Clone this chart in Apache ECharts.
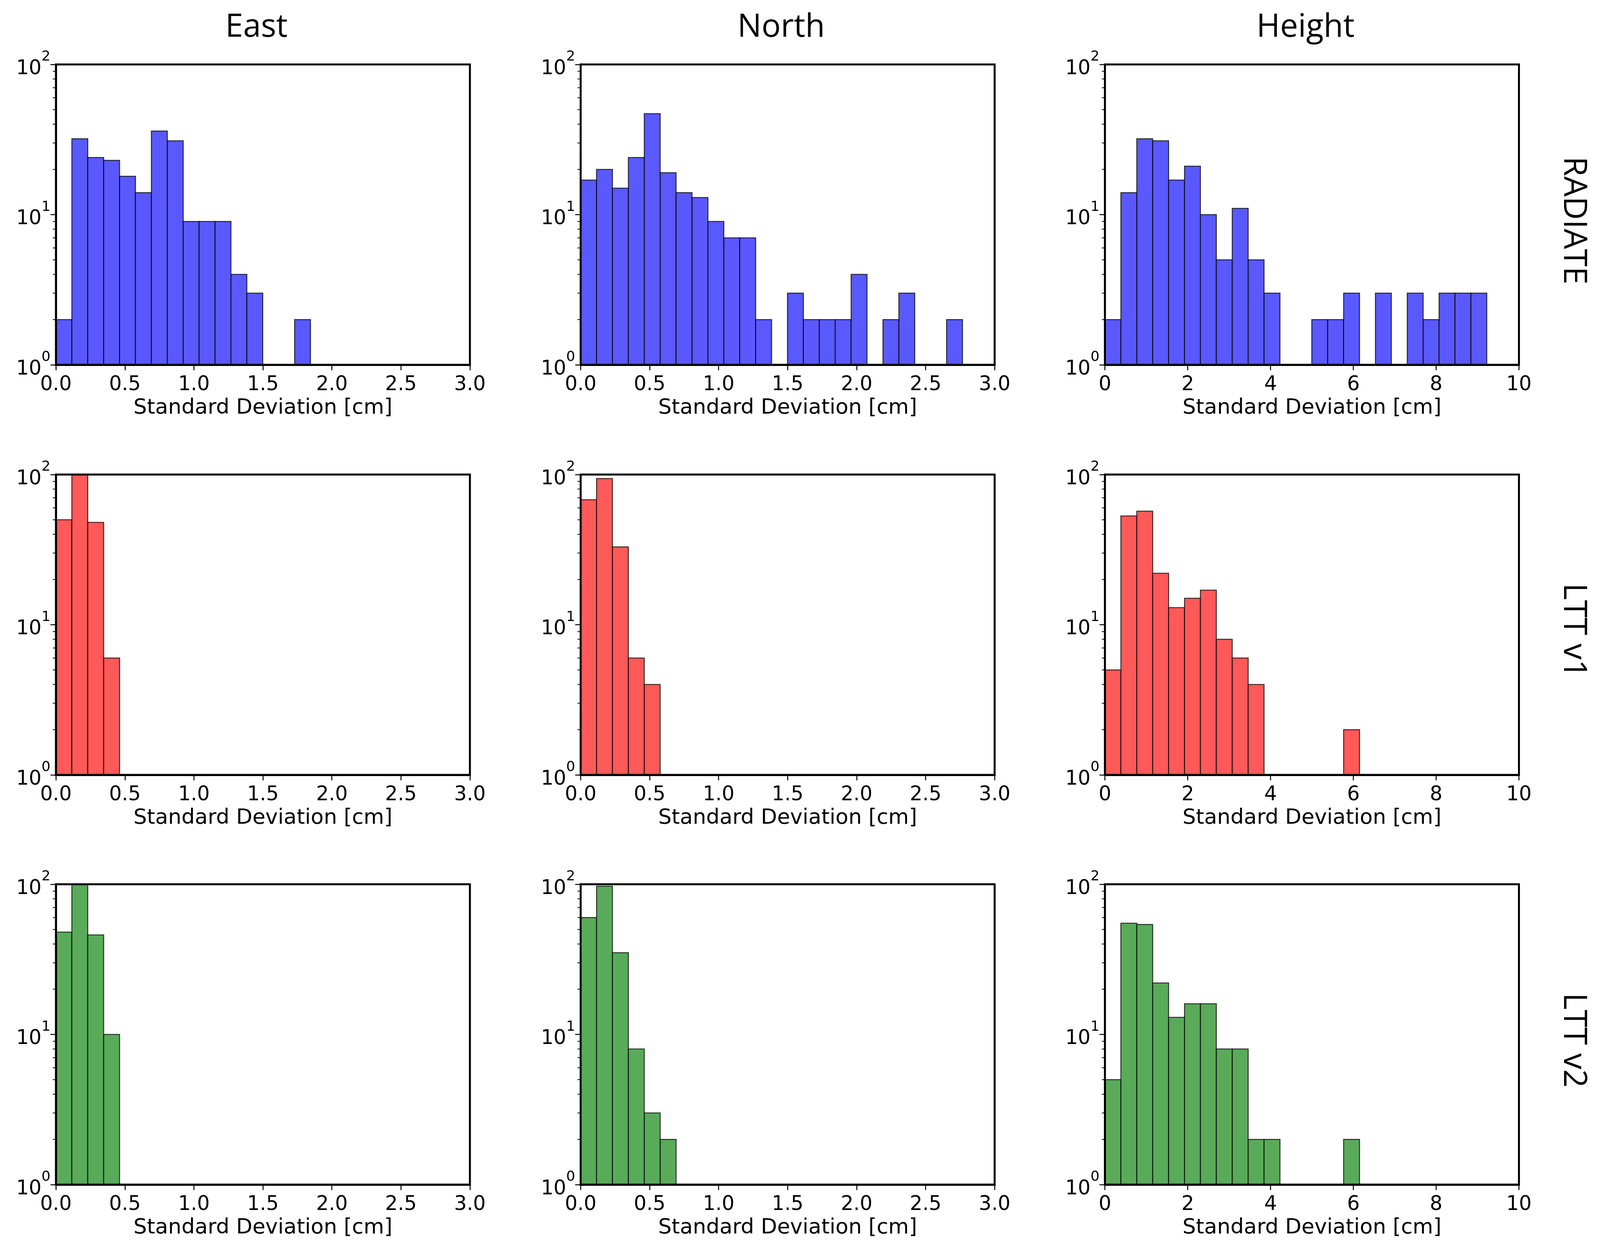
<!DOCTYPE html>
<html>
<head>
<meta charset="utf-8">
<script src="https://cdn.jsdelivr.net/npm/echarts@6/dist/echarts.min.js"></script>
<style>
html, body { margin: 0; padding: 0; background: #fff; overflow: hidden; }
#chart { width: 100vw; height: 100vh; }
</style>
</head>
<body>
<div id="chart"></div>
<script>
// column / row names
var columns = ['East', 'North', 'Height'];
var rows = ['RADIATE', 'LTT v1', 'LTT v2'];

// histogram bins, axis ranges
var binWidth = [0.1153, 0.1153, 0.3843];
var xMax = [3, 3, 10];
var xStep = [0.5, 0.5, 2];
var xDecimals = [1, 1, 0];

// counts per bin, starting at 0
var radiateEast = [2, 32, 24, 23, 18, 14, 36, 31, 9, 9, 9, 4, 3, 0, 0, 2];
var radiateNorth = [17, 20, 15, 24, 47, 19, 14, 13, 9, 7, 7, 2, 0, 3, 2, 2, 2, 4, 0, 2, 3, 0, 0, 2];
var radiateHeight = [2, 14, 32, 31, 17, 21, 10, 5, 11, 5, 3, 0, 0, 2, 2, 3, 0, 3, 0, 3, 2, 3, 3, 3];

var ltt1East = [50, 100, 48, 6];
var ltt1North = [68, 94, 33, 6, 4];
var ltt1Height = [5, 53, 57, 22, 13, 15, 17, 8, 6, 4, 0, 0, 0, 0, 0, 2];

var ltt2East = [48, 100, 46, 10];
var ltt2North = [60, 97, 35, 8, 3, 2];
var ltt2Height = [5, 55, 54, 22, 13, 16, 16, 8, 8, 2, 2, 0, 0, 0, 0, 2];

var counts = [
    [radiateEast, radiateNorth, radiateHeight],
    [ltt1East, ltt1North, ltt1Height],
    [ltt2East, ltt2North, ltt2Height]
];
var rowColors = ['#5959ff', '#ff5959', '#59ab59'];

// minor log ticks
var minorTicks = [2, 3, 4, 5, 6, 7, 8, 9, 20, 30, 40, 50, 60, 70, 80, 90];

var dom = document.getElementById('chart');
// layout in a 4205 x 3203 frame, scaled to whatever the page really is
var sx = dom.clientWidth / 4205;
var sy = dom.clientHeight / 3203;
var gridLeft = [147, 1526, 2904].map(function (v) { return v * sx; });
var gridTop = [165, 1215, 2264].map(function (v) { return v * sy; });
var gridW = 1088 * sx;
var gridH = 769 * sy;

var tickFont = 'DejaVu Sans';
var bigFont = 'Open Sans';

var grids = [], xAxes = [], yAxes = [], series = [], graphics = [];

for (var r = 0; r < 3; r++) {
    for (var c = 0; c < 3; c++) {
        var k = grids.length;
        grids.push({
            left: gridLeft[c], top: gridTop[r], width: gridW, height: gridH,
            show: true, borderColor: '#000', borderWidth: 5,
            backgroundColor: 'transparent', z: 5
        });
        xAxes.push({
            type: 'value', gridIndex: k, min: 0, max: xMax[c], interval: xStep[c],
            name: 'Standard Deviation [cm]', nameLocation: 'middle', nameGap: 84,
            nameTextStyle: { fontFamily: tickFont, fontSize: 54, color: '#000' },
            axisLine: { show: true, onZero: false, lineStyle: { color: '#000', width: 5 } },
            axisTick: { show: true, inside: false, length: 14, lineStyle: { color: '#000', width: 2.5 } },
            axisLabel: {
                margin: 26, fontFamily: tickFont, fontSize: 51, color: '#000',
                formatter: (function (d) { return function (v) { return v.toFixed(d); }; })(xDecimals[c])
            },
            splitLine: { show: false },
            z: 6
        });
        yAxes.push({
            type: 'log', logBase: 10, gridIndex: k, min: 1, max: 100,
            axisLine: { show: true, lineStyle: { color: '#000', width: 5 } },
            axisTick: { show: true, inside: false, length: 14, lineStyle: { color: '#000', width: 2.5 } },
            axisLabel: {
                margin: 14, color: '#000',
                formatter: function (v) {
                    return '{b|10}{s|' + Math.round(Math.log10(v)) + '}';
                },
                rich: {
                    b: { fontFamily: tickFont, fontSize: 51, lineHeight: 74, verticalAlign: 'bottom', color: '#000' },
                    s: { fontFamily: tickFont, fontSize: 36, lineHeight: 74, verticalAlign: 'top', color: '#000' }
                }
            },
            splitLine: { show: false },
            z: 6
        });

        var bw = binWidth[c];
        var data = [];
        counts[r][c].forEach(function (n, i) {
            if (n > 0) data.push([i * bw, n]);
        });
        series.push({
            type: 'custom', xAxisIndex: k, yAxisIndex: k, z: 2, clip: true,
            data: data,
            renderItem: (function (bw, color) {
                return function (params, api) {
                    var x0 = api.value(0);
                    var p0 = api.coord([x0, api.value(1)]);
                    var p1 = api.coord([x0 + bw, 1]);
                    return {
                        type: 'rect',
                        shape: { x: p0[0], y: p0[1], width: p1[0] - p0[0], height: p1[1] - p0[1] },
                        style: { fill: color, stroke: 'rgba(0,0,0,0.75)', lineWidth: 2.5 }
                    };
                };
            })(bw, rowColors[r])
        });
        series.push({
            type: 'custom', xAxisIndex: k, yAxisIndex: k, z: 6, clip: false,
            silent: true,
            data: minorTicks.map(function (v) { return [0, v]; }),
            renderItem: function (params, api) {
                var p = api.coord([0, api.value(1)]);
                return {
                    type: 'line',
                    shape: { x1: p[0] - 8, y1: p[1], x2: p[0], y2: p[1] },
                    style: { stroke: '#000', lineWidth: 2 }
                };
            }
        });
    }
}

// column titles
columns.forEach(function (name, c) {
    graphics.push({
        type: 'text', x: gridLeft[c] + gridW / 2 - 17 * sx, y: 71 * sy,
        style: {
            text: name, fontFamily: bigFont, fontSize: 82, fill: '#000',
            align: 'center', verticalAlign: 'middle'
        }
    });
});

// row labels on the right, rotated to read downwards
rows.forEach(function (name, r) {
    graphics.push({
        type: 'text', x: 4135 * sx, y: gridTop[r] + gridH / 2 + 15 * sy, rotation: -Math.PI / 2,
        style: {
            text: name, fontFamily: bigFont, fontSize: 82, fill: '#000',
            align: 'center', verticalAlign: 'middle'
        }
    });
});

var myChart = echarts.init(dom);
var option = {
    backgroundColor: '#fff',
    animation: false,
    grid: grids,
    xAxis: xAxes,
    yAxis: yAxes,
    series: series,
    graphic: graphics
};
myChart.setOption(option, true);
</script>
</body>
</html>
